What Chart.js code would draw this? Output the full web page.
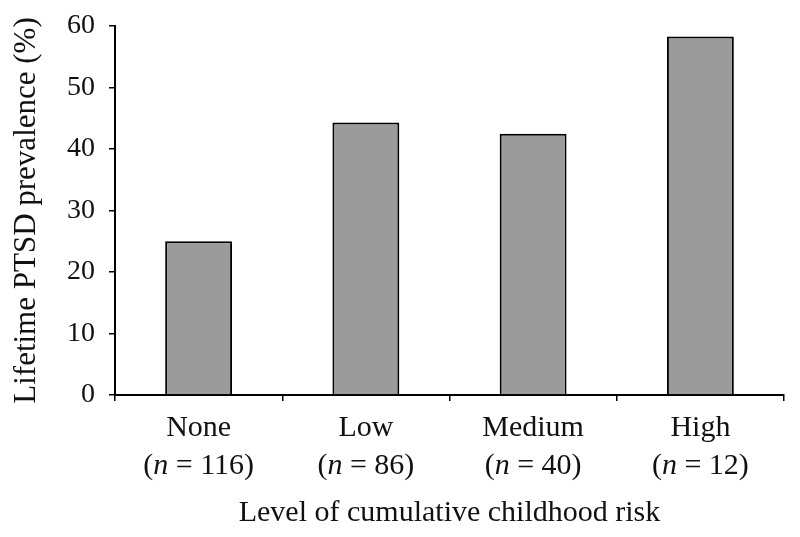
<!DOCTYPE html>
<html>
<head>
<meta charset="utf-8">
<script src="https://cdn.jsdelivr.net/npm/chart.js@4"></script>
<style>
  html, body { margin: 0; padding: 0; background: #fff; }
  canvas { display: block; }
</style>
</head>
<body>
<canvas id="c" width="800" height="537"></canvas>
<script>
const categories = ["None", "Low", "Medium", "High"];
const sampleSizes = ["116", "86", "40", "12"];
const prevalence = [25.0, 44.3, 42.5, 58.3];
const yTicks = [0, 10, 20, 30, 40, 50, 60];
const yTitle = "Lifetime PTSD prevalence (%)";
const xTitle = "Level of cumulative childhood risk";

const FONT = "'Liberation Serif', 'Times New Roman', serif";
const INK = "#111";

const categoryLabels = {
  id: "categoryLabels",
  afterDraw(chart) {
    const ctx = chart.ctx;
    const xs = chart.scales.x;
    ctx.save();
    ctx.fillStyle = INK;
    ctx.textBaseline = "alphabetic";
    categories.forEach((cat, i) => {
      const x = xs.getPixelForValue(i);
      ctx.font = "30px " + FONT;
      ctx.textAlign = "center";
      ctx.fillText(cat, x, 436);
      const parts = [
        { t: "(", f: "30px " + FONT },
        { t: "n", f: "italic 30px " + FONT },
        { t: " = " + sampleSizes[i] + ")", f: "30px " + FONT }
      ];
      let total = 0;
      parts.forEach(p => { ctx.font = p.f; p.w = ctx.measureText(p.t).width; total += p.w; });
      let cx = x - total / 2;
      ctx.textAlign = "left";
      parts.forEach(p => { ctx.font = p.f; ctx.fillText(p.t, cx, 474); cx += p.w; });
    });
    ctx.restore();
  }
};

new Chart(document.getElementById("c"), {
  type: "bar",
  data: {
    labels: categories,
    datasets: [{
      data: prevalence,
      backgroundColor: "#9b9b9b",
      borderColor: "#000",
      borderWidth: 2,
      categoryPercentage: 1.0,
      barPercentage: 0.4
    }]
  },
  options: {
    responsive: false,
    animation: false,
    layout: { padding: { top: 26, right: 16, left: 0, bottom: 0 } },
    plugins: { legend: { display: false }, tooltip: { enabled: false } },
    scales: {
      x: {
        offset: true,
        grid: { display: true, drawOnChartArea: false, drawTicks: true, tickLength: 6, color: "#000", lineWidth: 1.5, offset: true },
        border: { display: true, color: "#000", width: 2 },
        ticks: { display: false },
        title: { display: true, text: xTitle, color: INK, font: { family: FONT, size: 30 }, padding: { top: 0, bottom: 6 } },
        afterFit(scale) { scale.height = 142; scale.paddingLeft = 0; scale.paddingRight = 0; }
      },
      y: {
        min: 0,
        max: 60,
        afterBuildTicks(scale) { scale.ticks = yTicks.map(v => ({ value: v })); },
        grid: { display: true, drawOnChartArea: false, drawTicks: true, tickLength: 6, color: "#000", lineWidth: 1.5 },
        border: { display: true, color: "#000", width: 2 },
        ticks: { color: INK, font: { family: FONT, size: 28 }, padding: 14 },
        title: { display: true, text: yTitle, color: INK, font: { family: FONT, size: 31 }, padding: { top: 8, bottom: 0 } },
        afterFit(scale) { scale.width = 115; scale.paddingTop = 0; scale.paddingBottom = 0; }
      }
    }
  },
  plugins: [categoryLabels]
});
</script>
</body>
</html>
